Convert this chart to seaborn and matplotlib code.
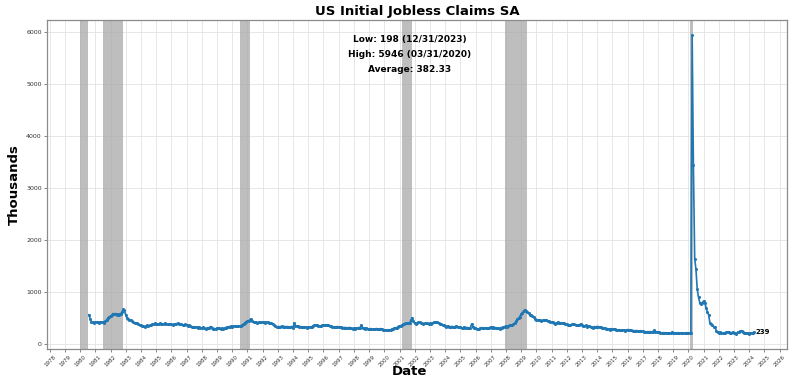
import numpy as np
import pandas as pd
import matplotlib
matplotlib.use("Agg")
import matplotlib.pyplot as plt
import matplotlib.dates as mdates
import seaborn as sns

# Monthly (month-end) initial claims, thousands, Jul 1980 .. Apr 2024
claims_by_year = {
    1980: [570, 480, 430, 420, 410, 420],
    1981: [430, 420, 415, 425, 420, 430, 415, 440, 470, 500, 530, 540],
    1982: [560, 590, 580, 590, 560, 580, 570, 590, 610, 670, 650, 560],
    1983: [500, 480, 470, 460, 440, 420, 410, 400, 400, 380, 370, 360],
    1984: [345, 350, 340, 350, 360, 350, 360, 370, 380, 380, 400, 390],
    1985: [390, 380, 400, 395, 385, 390, 400, 390, 380, 390, 395, 380],
    1986: [375, 385, 390, 395, 400, 385, 390, 380, 375, 370, 380, 365],
    1987: [355, 360, 345, 340, 335, 330, 325, 330, 320, 330, 315, 305],
    1988: [325, 310, 300, 305, 310, 320, 340, 310, 300, 300, 295, 310],
    1989: [305, 310, 300, 305, 300, 310, 320, 330, 330, 340, 345, 340],
    1990: [345, 350, 345, 350, 355, 350, 355, 370, 390, 410, 430, 440],
    1991: [450, 470, 490, 450, 420, 420, 425, 410, 420, 420, 425, 420],
    1992: [420, 410, 420, 420, 415, 400, 410, 390, 370, 350, 335, 340],
    1993: [335, 340, 345, 335, 340, 340, 335, 340, 330, 335, 340, 320],
    1994: [410, 350, 355, 345, 340, 335, 335, 325, 325, 330, 320, 325],
    1995: [325, 330, 340, 355, 360, 365, 370, 350, 355, 345, 360, 370],
    1996: [370, 360, 360, 370, 355, 345, 340, 330, 330, 330, 340, 335],
    1997: [330, 325, 320, 320, 320, 320, 310, 320, 320, 310, 300, 310],
    1998: [300, 310, 310, 320, 320, 370, 310, 310, 300, 310, 300, 290],
    1999: [300, 295, 290, 290, 295, 300, 295, 290, 300, 290, 280, 280],
    2000: [270, 280, 270, 270, 275, 290, 300, 305, 310, 320, 340, 350],
    2001: [350, 370, 380, 395, 410, 400, 400, 410, 460, 510, 440, 400],
    2002: [390, 400, 420, 420, 410, 400, 390, 400, 410, 400, 390, 400],
    2003: [390, 400, 420, 430, 420, 430, 400, 390, 380, 370, 360, 355],
    2004: [340, 350, 340, 330, 340, 340, 330, 340, 350, 330, 330, 330],
    2005: [320, 310, 330, 320, 320, 320, 310, 320, 390, 330, 320, 320],
    2006: [300, 290, 300, 310, 320, 310, 310, 315, 310, 310, 320, 330],
    2007: [320, 330, 310, 320, 310, 310, 300, 320, 320, 330, 340, 350],
    2008: [330, 350, 370, 370, 370, 380, 410, 440, 480, 500, 530, 580],
    2009: [600, 640, 660, 640, 620, 600, 560, 560, 540, 520, 490, 470],
    2010: [470, 470, 460, 450, 460, 460, 460, 470, 450, 440, 420, 420],
    2011: [420, 400, 390, 410, 420, 410, 400, 410, 400, 400, 390, 380],
    2012: [370, 360, 370, 380, 380, 380, 370, 370, 370, 370, 390, 360],
    2013: [350, 350, 360, 340, 350, 350, 340, 330, 310, 340, 330, 340],
    2014: [340, 330, 330, 310, 310, 310, 300, 300, 290, 280, 300, 290],
    2015: [290, 290, 280, 270, 280, 270, 270, 270, 270, 260, 270, 280],
    2016: [280, 270, 270, 260, 260, 260, 260, 260, 250, 260, 250, 250],
    2017: [240, 240, 240, 240, 240, 240, 240, 240, 270, 230, 240, 240],
    2018: [230, 220, 220, 220, 220, 220, 215, 210, 210, 215, 225, 220],
    2019: [215, 220, 215, 220, 215, 220, 215, 215, 215, 220, 220, 220],
    2020: [215, 220, 5946, 3440, 1640, 1445, 1060, 900, 800, 770, 800, 830],
    2021: [800, 700, 620, 570, 410, 380, 360, 340, 330, 260, 225, 210],
    2022: [230, 220, 210, 210, 210, 230, 240, 230, 215, 220, 230, 220],
    2023: [210, 205, 230, 240, 250, 260, 230, 220, 210, 210, 220, 198],
    2024: [210, 210, 220, 239],
}
start_month = {1980: 7}

recession_starts = ["1980-01-01", "1981-07-01", "1990-07-01", "2001-03-01", "2007-12-01", "2020-02-01"]
recession_ends = ["1980-07-01", "1982-11-01", "1991-03-01", "2001-11-01", "2009-06-01", "2020-05-01"]

title = "US Initial Jobless Claims SA"
stats_lines = ["Low: 198 (12/31/2023)", "High: 5946 (03/31/2020)", "Average: 382.33"]

# build frame
dates, vals = [], []
for yr, lst in claims_by_year.items():
    m0 = start_month.get(yr, 1)
    for i, v in enumerate(lst):
        dates.append(pd.Timestamp(year=yr, month=m0 + i, day=1) + pd.offsets.MonthEnd(0))
        vals.append(v)
df = pd.DataFrame({"Date": dates, "Claims": vals})

sns.set_style("whitegrid")
plt.rcParams["font.family"] = ["DejaVu Sans"]
plt.rcParams["text.color"] = "black"
plt.rcParams["axes.labelcolor"] = "black"

fig = plt.figure(figsize=(8, 3.8), dpi=100)
ax = fig.add_axes([0.059, 0.082, 0.925, 0.865])

for s, e in zip(recession_starts, recession_ends):
    ax.axvspan(pd.Timestamp(s), pd.Timestamp(e), color="#a9a9a9", alpha=0.75, lw=0, zorder=1)

sns.lineplot(data=df, x="Date", y="Claims", ax=ax, color="#1f77b4", lw=1.2,
             marker="o", markersize=2.2, markeredgewidth=0, zorder=3)

last = df.iloc[-1]
ax.text(last["Date"] + pd.Timedelta(days=20), last["Claims"], f"{last['Claims']}",
        fontsize=5, fontweight="bold", va="center", ha="left", color="black")

ax.set_xlim(pd.Timestamp("1977-11-01"), pd.Timestamp("2026-07-01"))
ax.xaxis.set_major_locator(mdates.YearLocator(1))
ax.xaxis.set_major_formatter(mdates.DateFormatter("%Y"))
ax.set_yticks([0, 1000, 2000, 3000, 4000, 5000, 6000])
plt.setp(ax.get_xticklabels(), rotation=45, fontsize=4, color="#333333")
plt.setp(ax.get_yticklabels(), fontsize=4.5, color="#333333")
ax.tick_params(axis="both", length=2, width=0.5, color="#555555", pad=2, left=True, bottom=True)

ax.grid(True, color="#e3e3e3", lw=0.6)
for sp in ax.spines.values():
    sp.set_color("#8c8c8c")
    sp.set_linewidth(0.9)

ax.set_title(title, fontsize=9.5, fontweight="bold", pad=4, color="black")
ax.set_xlabel("Date", fontsize=9.5, fontweight="bold")
ax.xaxis.set_label_coords(0.49, -0.048)
ax.set_ylabel("Thousands", fontsize=9.5, fontweight="bold")
ax.yaxis.set_label_coords(-0.036, 0.5)

for i, line in enumerate(stats_lines):
    ax.text(0.49, 0.942 - i * 0.046, line, transform=ax.transAxes, ha="center", va="center",
            fontsize=6.5, fontweight="bold", color="black")

fig.savefig("out.png", dpi=100)
